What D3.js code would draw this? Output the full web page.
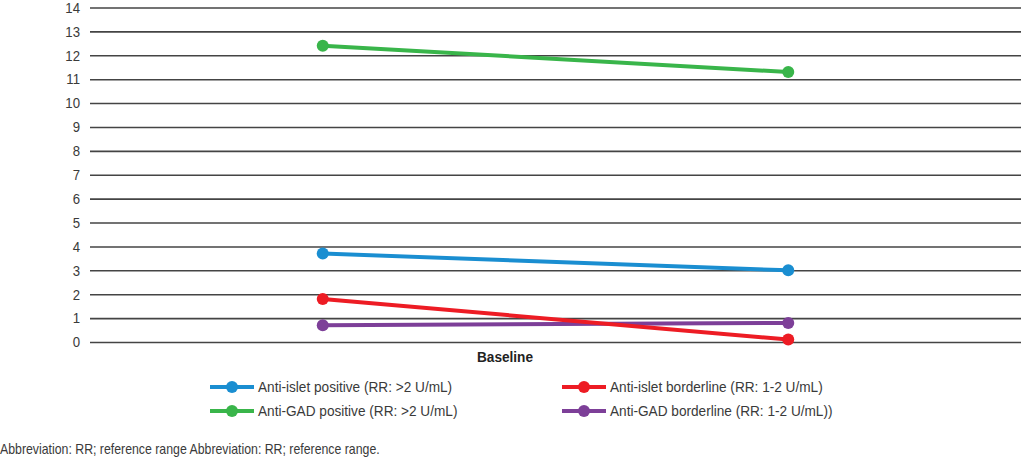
<!DOCTYPE html>
<html>
<head>
<meta charset="utf-8">
<script src="https://cdn.jsdelivr.net/npm/d3@7"></script>
<style>
  body { margin: 0; background: #fff; }
  text { font-family: "Liberation Sans Narrow", "Arial Narrow", "Liberation Sans", sans-serif; fill: #3a3a3a; }
</style>
</head>
<body>
<div id="chart"></div>
<script>
// data
const timepoints = ["t1", "t2"];
const seriesNames = [
  "Anti-islet positive (RR: >2 U/mL)",
  "Anti-islet borderline (RR: 1-2 U/mL)",
  "Anti-GAD positive (RR: >2 U/mL)",
  "Anti-GAD borderline (RR: 1-2 U/mL))"
];
const antiIsletPositive = [3.7, 3.0];
const antiIsletBorderline = [1.8, 0.1];
const antiGadPositive = [12.4, 11.3];
const antiGadBorderline = [0.7, 0.8];
const yTicks = d3.range(0, 15);
const xTitle = "Baseline";
const footnote = "Abbreviation: RR; reference range Abbreviation: RR; reference range.";

const colors = ["#1a8ed1", "#ed1c24", "#39b54a", "#7d3f98"];
const seriesValues = [antiIsletPositive, antiIsletBorderline, antiGadPositive, antiGadBorderline];

const width = 1024, height = 459;
const margin = {top: 7.5, right: 3, bottom: 117, left: 90};
const innerW = width - margin.left - margin.right,
      innerH = height - margin.top - margin.bottom;
// no narrow font installed, so squeeze text a little
const squeeze = 0.88;

const svg = d3.select("#chart")
  .append("svg")
  .attr("width", width)
  .attr("height", height);

const g = svg.append("g")
  .attr("transform", `translate(${margin.left},${margin.top})`);

const x = d3.scalePoint()
  .domain(timepoints)
  .range([0, innerW])
  .padding(0.5);

const y = d3.scaleLinear()
  .domain([0, 14])
  .range([innerH, 0]);

// y axis with gridlines
const yAxis = g.append("g")
  .call(d3.axisLeft(y).tickValues(yTicks).tickSize(-innerW).tickPadding(10));
yAxis.select(".domain").remove();
yAxis.selectAll(".tick line").attr("stroke", "#444").attr("stroke-width", 1.6);
yAxis.selectAll(".tick text")
  .style("font-size", "15px")
  .attr("fill", "#3a3a3a")
  .attr("transform", `translate(-10,0) scale(${squeeze},1)`)
  .attr("x", 0);

// lines
const line = d3.line()
  .x((d, i) => x(timepoints[i]))
  .y(d => y(d));

// draw in order so that purple/red overlap like the original
const drawOrder = [2, 0, 3, 1];
drawOrder.forEach(k => {
  g.append("path")
    .datum(seriesValues[k])
    .attr("fill", "none")
    .attr("stroke", colors[k])
    .attr("stroke-width", 4)
    .attr("d", line);
  g.selectAll(null)
    .data(seriesValues[k])
    .join("circle")
    .attr("cx", (d, i) => x(timepoints[i]))
    .attr("cy", d => y(d))
    .attr("r", 6)
    .attr("fill", colors[k]);
});

// x title
svg.append("text")
  .attr("text-anchor", "middle")
  .attr("transform", `translate(505,362) scale(${squeeze},1)`)
  .style("font-size", "15.5px")
  .style("font-weight", "bold")
  .style("fill", "#222")
  .text(xTitle);

// legend 2x2
const legendOrder = [0, 1, 2, 3];
const legend = svg.append("g");
const item = legend.selectAll("g")
  .data(legendOrder)
  .join("g")
  .attr("transform", (d, i) => `translate(${i % 2 === 0 ? 210 : 562},${i < 2 ? 387 : 411})`);
item.append("line")
  .attr("x1", 0).attr("x2", 44)
  .attr("stroke", d => colors[d])
  .attr("stroke-width", 4);
item.append("circle")
  .attr("cx", 22).attr("r", 6)
  .attr("fill", d => colors[d]);
item.append("text")
  .attr("transform", `translate(48,0) scale(${squeeze},1)`)
  .attr("dy", "0.35em")
  .style("font-size", "15.5px")
  .text(d => seriesNames[d]);

// footnote
svg.append("text")
  .attr("transform", `translate(0,454) scale(${squeeze},1)`)
  .style("font-size", "14px")
  .text(footnote);
</script>
</body>
</html>
